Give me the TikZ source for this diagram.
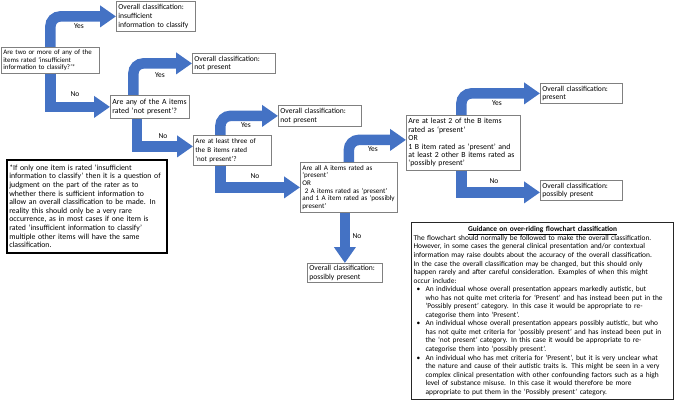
\documentclass[tikz,border=0pt]{standalone}
\usepackage{fontspec}
\setmainfont{Carlito}
\usetikzlibrary{arrows.meta,positioning}
\definecolor{flowblue}{RGB}{68,114,196}
\definecolor{boxgray}{RGB}{128,128,128}
\tikzset{
  box/.style={draw=boxgray, line width=0.8pt, fill=white, anchor=north west, align=left, inner sep=2pt, font=\fontsize{7.6}{8.6}\selectfont},
  smallbox/.style={box, font=\fontsize{6.9}{7.4}\selectfont},
  flow/.style={draw=flowblue, line width=10.5pt, -{Triangle[width=21pt,length=16pt]}},
  yesflow/.style={flow, rounded corners=10pt},
  lbl/.style={font=\fontsize{7.5}{8}\selectfont, inner sep=1pt},
}
\begin{document}
\begin{tikzpicture}[x=1pt,y=-1pt]
\useasboundingbox (0,0) rectangle (676,401);
% questions
\node (q1) [smallbox, text width=94pt, minimum height=26pt] at (1,47) {Are two or more of any of the\\items rated ‘insufficient\\information to classify?’*};
\node (q2) [box, text width=75pt, minimum height=23pt, font=\fontsize{7.8}{9.5}\selectfont] at (110,95) {Are any of the A items\\rated ‘not present’?};
\node (q3) [box, text width=74pt, minimum height=30pt, font=\fontsize{7.1}{8.8}\selectfont] at (193,135) {Are at least three of\\the B items rated\\‘not present’?};
\node (q4) [box, text width=93pt, minimum height=50pt, font=\fontsize{7.1}{7.6}\selectfont] at (300,162) {Are all A items rated as\\‘present’\\OR\\\ 2 A items rated as ‘present’\\and 1 A item rated as ‘possibly\\present’};
\node (q5) [box, text width=110pt, minimum height=55pt, font=\fontsize{7.8}{8.4}\selectfont] at (406,115) {Are at least 2 of the B items\\rated as ‘present’\\OR\\1 B item rated as ‘present’ and\\at least 2 other B items rated as\\‘possibly present’};
% results
\node (res1) [box, text width=75pt, minimum height=30pt] at (116,1) {Overall classification:\\insufficient\\information to classify};
\node (res2) [box, text width=79pt, minimum height=20pt] at (192,53) {Overall classification:\\not present};
\node (res3) [box, text width=79pt, minimum height=21pt] at (278,105) {Overall classification:\\not present};
\node (res5) [box, text width=71pt, minimum height=19pt] at (307,263) {Overall classification:\\possibly present};
\node (res6) [box, text width=78pt, minimum height=20pt] at (540,83) {Overall classification:\\present};
\node (res7) [box, text width=78pt, minimum height=20pt] at (540,180) {Overall classification:\\possibly present};
% notes
\node (note) [box, draw=black, line width=1.6pt, text width=155pt, minimum height=93pt, inner xsep=2.5pt, font=\fontsize{7.8}{8.6}\selectfont] at (6,159) {*If only one item is rated ‘insufficient\\information to classify’ then it is a question of\\judgment on the part of the rater as to\\whether there is sufficient information to\\allow an overall classification to be made. In\\reality this should only be a very rare\\occurrence, as in most cases if one item is\\rated ‘insufficient information to classify’\\multiple other items will have the same\\classification.};
\node (guide) [box, draw=black!85, line width=1.2pt, text width=258pt, minimum height=177pt, font=\fontsize{7.4}{8.55}\selectfont] at (411,222) {\makebox[\hsize][c]{\bfseries\underline{Guidance on over-riding flowchart classification}}\\
The flowchart should normally be followed to make the overall classification.\\
However, in some cases the general clinical presentation and/or contextual\\
information may raise doubts about the accuracy of the overall classification.\\
In the case the overall classification may be changed, but this should only\\
happen rarely and after careful consideration. Examples of when this might\\
occur include:\\
\makebox[12pt][l]{\hspace*{3pt}\textbullet}An individual whose overall presentation appears markedly autistic, but\\
\hspace*{12pt}who has not quite met criteria for ‘Present’ and has instead been put in the\\
\hspace*{12pt}‘Possibly present’ category. In this case it would be appropriate to re-\\
\hspace*{12pt}categorise them into ‘Present’.\\
\makebox[12pt][l]{\hspace*{3pt}\textbullet}An individual whose overall presentation appears possibly autistic, but who\\
\hspace*{12pt}has not quite met criteria for ‘possibly present’ and has instead been put in\\
\hspace*{12pt}the ‘not present’ category. In this case it would be appropriate to re-\\
\hspace*{12pt}categorise them into ‘possibly present’.\\
\makebox[12pt][l]{\hspace*{3pt}\textbullet}An individual who has met criteria for ‘Present’, but it is very unclear what\\
\hspace*{12pt}the nature and cause of their autistic traits is. This might be seen in a very\\
\hspace*{12pt}complex clinical presentation with other confounding factors such as a high\\
\hspace*{12pt}level of substance misuse. In this case it would therefore be more\\
\hspace*{12pt}appropriate to put them in the ‘Possibly present’ category.};
% arrows
\draw[yesflow] (q1.north) |- (res1.west);
\draw[flow] (q1.south) |- (q2.west);
\draw[yesflow] ([xshift=-16.5pt]q2.north) |- (res2.west);
\draw[flow] ([xshift=-13pt]q2.south) |- ([yshift=4pt]q3.west);
\draw[yesflow] ([xshift=-12pt]q3.north) |- (res3.west);
\draw[flow] ([xshift=-12pt]q3.south) |- (q4.west);
\draw[yesflow] (q4.north) |- ([yshift=3pt]q5.west);
\draw[flow] (q4.south -| res5.north) -- (res5.north);
\draw[yesflow] ([xshift=-2pt]q5.north) |- (res6.west);
\draw[flow] ([xshift=-2pt]q5.south) |- ([yshift=-2pt]res7.west);
% labels
\node (yes1) [lbl] at (79,26) {Yes};
\node (no1) [lbl] at (75,94) {No};
\node (yes2) [lbl] at (160,75) {Yes};
\node (no2) [lbl] at (163,136) {No};
\node (yes3) [lbl] at (246,125) {Yes};
\node (no3) [lbl] at (255,176) {No};
\node (yes4) [lbl] at (373,149) {Yes};
\node (no4) [lbl] at (357,236) {No};
\node (yes5) [lbl] at (497,103) {Yes};
\node (no5) [lbl] at (494,181) {No};
\end{tikzpicture}
\end{document}
